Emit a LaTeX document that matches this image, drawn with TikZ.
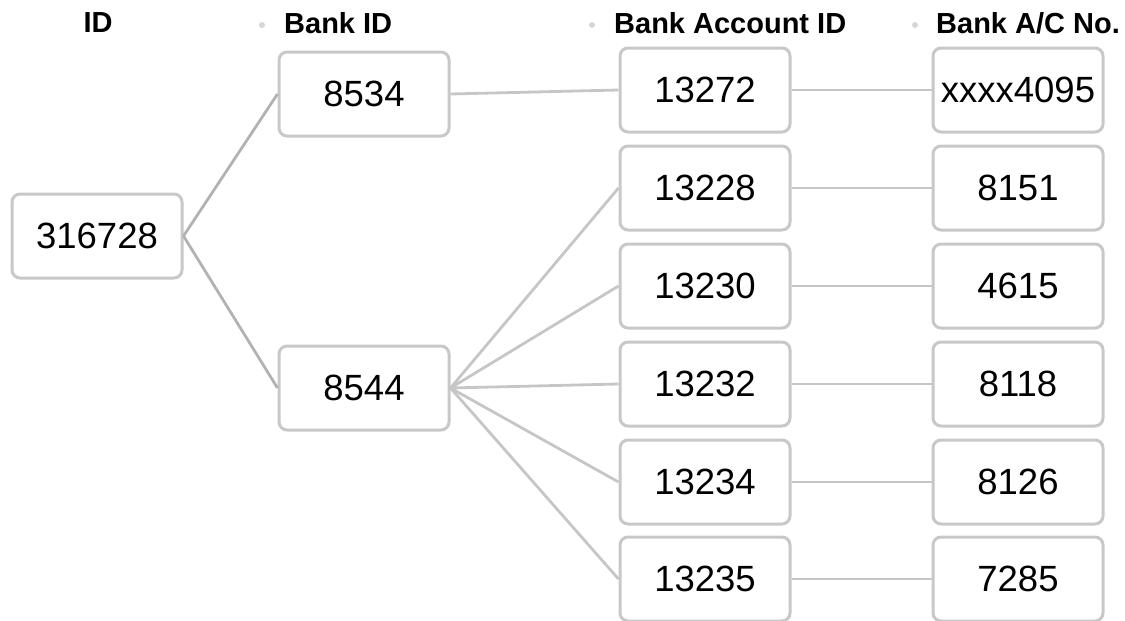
\documentclass[tikz,border=0pt]{standalone}
\usepackage{fontspec}
\setmainfont{Liberation Sans}
\definecolor{boxline}{HTML}{C8C8C8}
\definecolor{linkline}{HTML}{C6C6C6}
\definecolor{rootline}{HTML}{B2B2B2}
\definecolor{dotgrey}{HTML}{D6D6D6}
\begin{document}
\begin{tikzpicture}[x=1pt,y=-1pt,
  idbox/.style={draw=boxline, line width=3pt, rounded corners=8pt, fill=white,
    minimum width=170pt, minimum height=84pt, inner sep=0pt,
    font=\fontsize{36.5}{40}\selectfont},
  link/.style={draw=linkline, line width=2.8pt},
  rootlink/.style={draw=rootline, line width=2.8pt},
  head/.style={font=\fontsize{29}{32}\selectfont\bfseries, inner sep=0pt},
  hdot/.style={circle, fill=dotgrey, inner sep=0pt, minimum size=6pt}]
\useasboundingbox (0,0) rectangle (1125,621);

% column headers
\node[head] (h1) at (98,23) {ID};
\node[hdot] (d2) at (262,25) {};
\node[head, anchor=west] (h2) at (284,23) {Bank ID};
\node[hdot] (d3) at (592,25) {};
\node[head, anchor=west] (h3) at (614,23) {Bank Account ID};
\node[hdot] (d4) at (915,25) {};
\node[head, anchor=west] (h4) at (936,23) {Bank A/C No.};

% root and bank ids
\node[idbox] (root) at (97,236) {316728};
\node[idbox] (b1) at (364,94) {8534};
\node[idbox] (b2) at (364,388) {8544};

% bank account ids
\node[idbox] (a1) at (705,90) {13272};
\node[idbox] (a2) at (705,188) {13228};
\node[idbox] (a3) at (705,286) {13230};
\node[idbox] (a4) at (705,384) {13232};
\node[idbox] (a5) at (705,482) {13234};
\node[idbox] (a6) at (705,579) {13235};

% account numbers
\node[idbox] (n1) at (1018,90) {xxxx4095};
\node[idbox] (n2) at (1018,188) {8151};
\node[idbox] (n3) at (1018,286) {4615};
\node[idbox] (n4) at (1018,384) {8118};
\node[idbox] (n5) at (1018,482) {8126};
\node[idbox] (n6) at (1018,579) {7285};

% connectors
\draw[rootlink] (root.east) -- (b1.west);
\draw[rootlink] (root.east) -- (b2.west);
\draw[link] (b1.east) -- (a1.west);
\foreach \a in {a2,a3,a4,a5,a6}
  \draw[link] (b2.east) -- (\a.west);
\foreach \i in {1,...,6}
  \draw[link] (a\i.east) -- (n\i.west);
\end{tikzpicture}
\end{document}
